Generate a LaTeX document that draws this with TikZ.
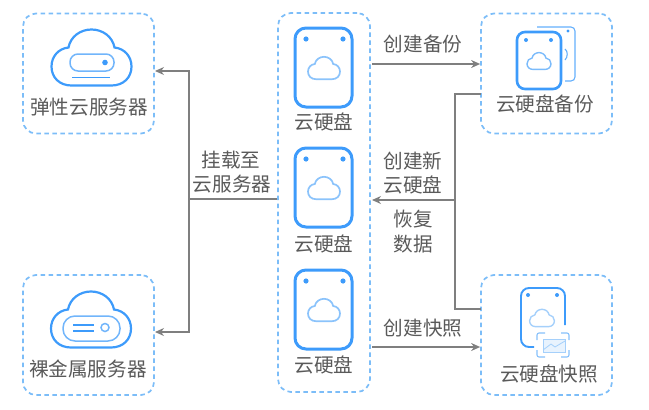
\documentclass[tikz,border=0pt]{standalone}
\usepackage{fontspec}
\setmainfont{Noto Sans CJK SC}
\usetikzlibrary{arrows.meta,calc}
\definecolor{boxblue}{HTML}{7CBDF8}
\definecolor{iconblue}{HTML}{3D9BFB}
\definecolor{softblue}{HTML}{A5D0FB}
\definecolor{linkgray}{HTML}{7F7F7F}
\definecolor{labelgray}{HTML}{5A5A5A}
\tikzset{
  dashbox/.style={draw=boxblue, line width=1.7pt, dash pattern=on 4.5pt off 3.5pt, rounded corners=13pt, inner sep=0pt},
  link/.style={draw=linkgray, line width=1.3pt},
  flow/.style={link, -{Stealth[length=9pt,width=8pt]}},
  label/.style={text=labelgray, font=\fontsize{19.6}{19.6}\selectfont, inner sep=0pt},
  icon/.style={draw=iconblue, line width=#1},
  icon/.default=1.4pt
}
% #1 centre, #2 scale, #3 line options
\newcommand{\cloudicon}[3]{
  \draw[#3, shift={#1}, scale=#2] (-20,28) .. controls (-32,28) and (-40,20) .. (-40,9)
    .. controls (-40,-1) and (-33,-9) .. (-23,-10) .. controls (-21,-21) and (-11,-28) .. (0,-28)
    .. controls (11,-28) and (21,-21) .. (23,-10) .. controls (33,-9) and (40,-1) .. (40,9)
    .. controls (40,20) and (32,28) .. (20,28) -- cycle;
}
% #1 top y
\newcommand{\diskicon}[1]{
  \draw[icon=3pt, rounded corners=11pt] (295,#1) rectangle ++(57,79);
  \fill[iconblue] (306,#1+11) circle (2.6) (343,#1+11) circle (2.6);
  \cloudicon{(324,#1+40)}{0.4}{draw=softblue!75!iconblue, line width=1.7pt}
}
\begin{document}
\begin{tikzpicture}[x=1pt, y=-1pt]
  \useasboundingbox (0,0) rectangle (649,410);
  % dashed groups
  \node[dashbox, minimum width=131pt, minimum height=120pt] (ecs) at (88.5,73.5) {};
  \node[dashbox, minimum width=131pt, minimum height=120pt] (bms) at (88.5,335) {};
  \node[dashbox, minimum width=92pt, minimum height=379pt] (vol) at (324,202.5) {};
  \node[dashbox, minimum width=131pt, minimum height=120pt] (bak) at (546.5,73.5) {};
  \node[dashbox, minimum width=131pt, minimum height=120pt] (snap) at (546.5,335) {};
  % elastic server icon
  \cloudicon{(91.5,57.5)}{1}{icon=2.2pt}
  \draw[draw=softblue!50!iconblue, line width=1.5pt, rounded corners=8pt] (70,54) rectangle (114,71);
  \fill[iconblue] (105,62.5) circle (2.8);
  \draw[iconblue, line width=0.9pt] (72,77) -- (110,77);
  % bare metal server icon
  \cloudicon{(91,319.5)}{1}{icon=2.2pt}
  \draw[draw=softblue!50!iconblue, line width=1.5pt, rounded corners=12pt] (63,316) rectangle (120,341);
  \draw[iconblue, line width=1.3pt] (73,325) -- (94,325) (73,331) -- (94,331);
  \draw[draw=softblue!50!iconblue, line width=1.5pt] (105,327.5) circle (4);
  % the three disks
  \diskicon{28}
  \diskicon{148}
  \diskicon{270}
  % backup icon
  \draw[iconblue!80!white, line width=1.1pt, rounded corners=4pt] (537,27) -- (575,27) -- (575,81) -- (565,81);
  \fill[iconblue] (568,31) circle (1.6);
  \draw[iconblue!80!white, line width=1.1pt] (565,49) .. controls (568,51) and (568,57) .. (565,60);
  \draw[icon=2.6pt, rounded corners=8pt] (517,32) rectangle (561,89);
  \fill[iconblue] (526,40) circle (2) (551,40) circle (2);
  \cloudicon{(539,61)}{0.3}{draw=softblue!60!iconblue, line width=1.4pt}
  % snapshot icon
  \draw[iconblue, line width=1.9pt, rounded corners=8pt] (565,325) -- (565,288) -- (521,288) -- (521,347) -- (534,347);
  \fill[iconblue] (528,295) circle (2) (557,295) circle (2);
  \cloudicon{(542,318)}{0.31}{draw=softblue, line width=1.4pt}
  \draw[softblue!70!iconblue, line width=1.1pt, rounded corners=2pt]
    (537,340) -- (537,333) -- (545,333) (561,333) -- (569,333) -- (569,340)
    (569,350) -- (569,357) -- (561,357) (545,357) -- (537,357) -- (537,350);
  \draw[softblue, line width=0.8pt, fill=softblue!25] (543,339) rectangle (565,352);
  \draw[softblue, line width=0.8pt] (543,350) -- (551,344) -- (555,347) -- (565,341);
  % connectors
  \coordinate (mount) at (189,199);
  \coordinate (ecsin) at (155,71);
  \coordinate (bmsin) at (155,332);
  \coordinate (volout) at (372,64);
  \coordinate (volsnap) at (372,347);
  \coordinate (volin) at (372,200);
  \coordinate (rail) at (455,200);
  \coordinate (bakout) at (481,94);
  \coordinate (snapout) at (481,309);
  \draw[link] (vol.west |- mount) -- (mount);
  \draw[flow] (mount) |- (ecsin);
  \draw[flow] (mount) |- (bmsin);
  \draw[flow] (volout) -- (bak.west |- volout);
  \draw[flow] (volsnap) -- (snap.west |- volsnap);
  \draw[link] (bakout) -| (rail);
  \draw[link] (snapout) -| (rail);
  \draw[flow] (rail) -- (volin);
  % labels
  \node[label] (ecstext) at (89,107) {弹性云服务器};
  \node[label] (bmstext) at (88,369) {裸金属服务器};
  \node[label] (voltext1) at (324,122) {云硬盘};
  \node[label] (voltext2) at (324,244) {云硬盘};
  \node[label] (voltext3) at (324,365) {云硬盘};
  \node[label] (baktext) at (545,104) {云硬盘备份};
  \node[label] (snaptext) at (549,374) {云硬盘快照};
  \node[label] (baklabel) at (423,44) {创建备份};
  \node[label] (mountlabel1) at (231,160) {挂载至};
  \node[label] (mountlabel2) at (232,184) {云服务器};
  \node[label] (newlabel1) at (413,161) {创建新};
  \node[label] (newlabel2) at (413,185) {云硬盘};
  \node[label] (restlabel1) at (413,219) {恢复};
  \node[label] (restlabel2) at (413,244) {数据};
  \node[label] (snaplabel) at (423,328) {创建快照};
\end{tikzpicture}
\end{document}
